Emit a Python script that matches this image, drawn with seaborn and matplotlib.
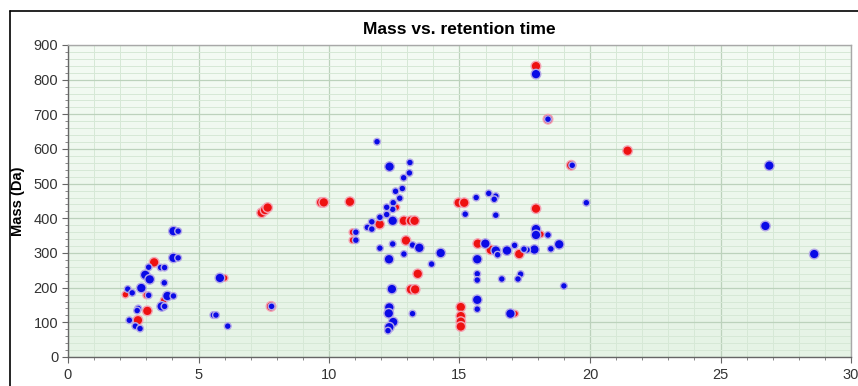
import numpy as np
import pandas as pd
import matplotlib
matplotlib.use("Agg")
import matplotlib.pyplot as plt
from matplotlib.lines import Line2D
from matplotlib.ticker import MultipleLocator
from matplotlib.colors import LinearSegmentedColormap
import seaborn as sns

# ---- data ----
red_rt = [2.2, 2.68, 3.0, 3.04, 3.3, 3.67, 6.0, 7.78, 7.42, 7.55, 7.65, 9.7, 9.8, 10.8,
          10.9, 10.9, 11.94, 12.87, 13.14, 13.28, 12.95, 13.4, 13.14, 13.3, 15.05, 15.05,
          15.05, 15.05, 14.97, 15.18, 15.7, 16.2, 17.29, 17.13, 17.93, 18.12, 17.93, 18.39,
          21.44, 19.28, 12.58]
red_mass = [180, 106, 178, 133, 273, 164, 228, 146, 416, 424, 431, 446, 446, 448,
            360, 337, 383, 393, 393, 393, 336, 240, 195, 195, 144, 118,
            102, 88, 445, 445, 327, 309, 297, 125, 428, 354, 839, 686,
            595, 553, 432]
red_size = ["S", "L", "S", "L", "L", "S", "S", "L", "L", "L", "L", "L", "L", "L",
            "S", "S", "L", "L", "L", "L", "L", "L", "L", "L", "L", "L",
            "L", "L", "L", "L", "L", "L", "L", "S", "L", "S", "L", "L",
            "L", "L", "S"]

blue_rt = [2.29, 2.46, 2.35, 2.69, 2.65, 2.58, 2.76, 2.81, 2.96, 3.13, 3.09, 3.09, 3.55,
           3.7, 3.69, 3.59, 3.7, 3.81, 4.04, 4.04, 4.22, 4.04, 4.22, 5.57, 5.67, 5.82,
           6.12, 7.8, 11.84, 12.32, 13.1, 13.08, 12.86, 12.81, 12.55, 12.46, 12.71, 12.44,
           12.21, 12.21, 11.95, 11.64, 11.47, 11.64, 12.44, 11.03, 11.03, 13.2, 13.46,
           12.44, 11.95, 12.3, 12.87, 14.28, 13.93, 12.41, 12.31, 12.29, 12.46, 12.31,
           12.26, 13.2, 15.64, 16.12, 16.39, 16.33, 15.22, 16.39, 19.86, 17.93, 17.93,
           18.39, 18.82, 18.5, 17.87, 17.59, 17.47, 17.11, 16.82, 16.39, 16.46, 15.99,
           15.68, 15.68, 15.68, 16.62, 17.34, 17.24, 19.0, 15.68, 15.68, 16.95, 26.72,
           28.59, 17.93, 18.39, 19.32, 26.87]
blue_mass = [196, 185, 106, 140, 134, 89, 82, 199, 237, 224, 259, 178, 258,
             258, 214, 146, 146, 176, 176, 286, 286, 363, 363, 121, 121, 228,
             89, 146, 621, 549, 561, 531, 517, 486, 478, 445, 458, 426,
             432, 411, 403, 390, 374, 369, 393, 360, 337, 323, 315,
             326, 314, 282, 297, 300, 268, 196, 143, 126, 101, 86,
             76, 125, 460, 472, 464, 455, 412, 409, 445, 369, 352,
             352, 325, 312, 310, 309, 311, 322, 307, 307, 295, 327,
             282, 240, 222, 225, 239, 225, 205, 165, 138, 125, 378,
             297, 816, 686, 553, 552]
blue_size = ["S", "S", "S", "S", "S", "S", "S", "L", "L", "L", "S", "S", "S",
             "S", "S", "L", "S", "L", "S", "L", "S", "L", "S", "S", "S", "L",
             "S", "S", "S", "L", "S", "S", "S", "S", "S", "S", "S", "S",
             "S", "S", "S", "S", "S", "S", "L", "S", "S", "S", "L",
             "S", "S", "L", "S", "L", "S", "L", "L", "L", "L", "L",
             "S", "S", "S", "S", "S", "S", "S", "S", "S", "L", "L",
             "S", "L", "S", "L", "S", "S", "S", "L", "L", "S", "L",
             "L", "S", "S", "S", "S", "S", "S", "L", "S", "L", "L",
             "L", "L", "S", "S", "L"]

x_ticks = [0, 5, 10, 15, 20, 25, 30]
y_ticks = [0, 100, 200, 300, 400, 500, 600, 700, 800, 900]

red_df = pd.DataFrame({"rt": red_rt, "mass": red_mass, "size": red_size})
blue_df = pd.DataFrame({"rt": blue_rt, "mass": blue_mass, "size": blue_size})

sns.set_theme(style="white")
plt.rcParams["font.family"] = ["Liberation Sans", "DejaVu Sans"]

fig = plt.figure(figsize=(8.58, 3.86), dpi=100)
ax = fig.add_axes([68 / 858, 1 - 357 / 386, (851 - 68) / 858, (357 - 45) / 386])

# background gradient
grad = np.linspace(0, 1, 256).reshape(-1, 1)
cmap = LinearSegmentedColormap.from_list("bg", ["#e5f3e5", "#f4fbf4"])
ax.imshow(grad, extent=[0, 30, 0, 900], origin="lower", aspect="auto",
          cmap=cmap, zorder=0)

ax.set_xlim(0, 30)
ax.set_ylim(0, 900)
ax.xaxis.set_minor_locator(MultipleLocator(1))
ax.yaxis.set_minor_locator(MultipleLocator(20))
ax.set_xticks(x_ticks)
ax.set_yticks(y_ticks)
ax.grid(True, which="major", color="#bcd2bc", linewidth=0.9, zorder=1)
ax.grid(True, which="minor", color="#d6e8d6", linewidth=0.7, zorder=1)
ax.set_axisbelow(True)

sizes = {"S": 24, "L": 48}
sns.scatterplot(data=red_df, x="rt", y="mass", size="size", sizes=sizes,
                color="#ee1111", edgecolor="#f3a4b4", linewidth=1.0,
                legend=False, ax=ax, zorder=3)
sns.scatterplot(data=blue_df, x="rt", y="mass", size="size", sizes=sizes,
                color="#0a0ae6", edgecolor="#b4a8e6", linewidth=1.0,
                legend=False, ax=ax, zorder=4)

ax.set_xlabel("")
ax.set_ylabel("Mass (Da)", fontsize=10.5, fontweight="bold", labelpad=6,
              color="black")
ax.set_title("Mass vs. retention time", fontsize=12.5, fontweight="bold", pad=8,
             color="black")

for side in ["left", "bottom"]:
    ax.spines[side].set_color("#666666")
    ax.spines[side].set_linewidth(1.0)
for side in ["top", "right"]:
    ax.spines[side].set_color("#a8a8a8")
    ax.spines[side].set_linewidth(1.0)

ax.tick_params(axis="both", which="major", labelsize=10.5, length=4, width=0.8,
               color="#666666", labelcolor="#333333", direction="out",
               bottom=True, left=True)
ax.tick_params(axis="both", which="minor", length=2.5, width=0.7,
               color="#888888", direction="out", bottom=True, left=True)
ax.tick_params(axis="x", pad=4)
ax.tick_params(axis="y", pad=3)

# outer frame (top and left edges visible)
fig.add_artist(Line2D([9.5 / 858, 1.0], [1 - 10.5 / 386, 1 - 10.5 / 386],
                      transform=fig.transFigure, color="black", linewidth=1.2))
fig.add_artist(Line2D([9.5 / 858, 9.5 / 858], [0, 1 - 10.5 / 386],
                      transform=fig.transFigure, color="black", linewidth=1.2))

fig.savefig("out.png", dpi=100)
